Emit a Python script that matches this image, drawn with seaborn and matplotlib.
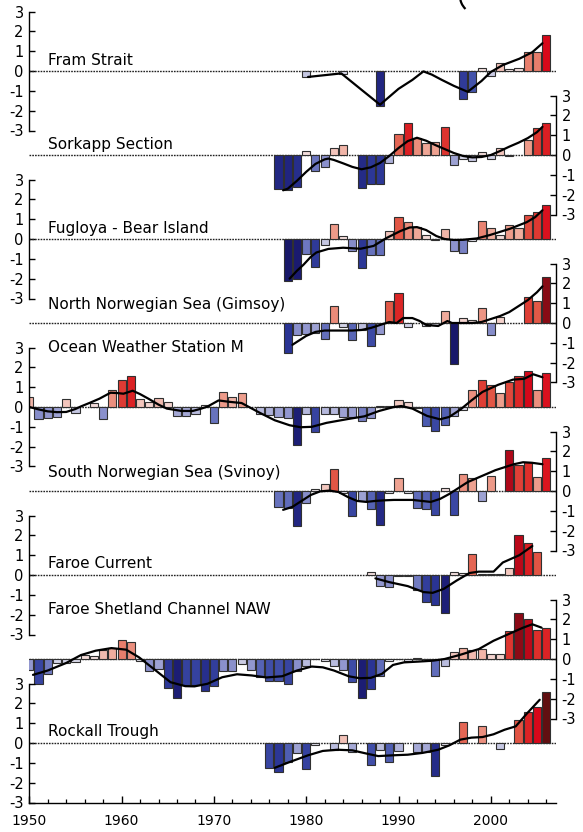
import numpy as np
import pandas as pd
import matplotlib
matplotlib.use("Agg")
import matplotlib.pyplot as plt
import seaborn as sns
from matplotlib.colors import LinearSegmentedColormap, Normalize
from matplotlib.ticker import FixedLocator
from matplotlib.patches import Arc
from matplotlib.transforms import IdentityTransform

sns.set_theme(style="white")
plt.rcParams["font.family"] = ["DejaVu Sans"]
plt.rcParams["axes.unicode_minus"] = False
plt.rcParams["text.color"] = "black"
plt.rcParams["xtick.color"] = "black"
plt.rcParams["ytick.color"] = "black"

nan = np.nan

# ---------------- annual anomalies (bars) ----------------
fram_years = [1980, 1984, 1988, 1997, 1998, 1999, 2000, 2001, 2002, 2003, 2004, 2005, 2006]
fram_vals = [-0.3, -0.15, -1.75, -1.4, -1.05, 0.15, -0.25, 0.4, 0.12, 0.15, 0.95, 0.95, 1.8]

sorkapp_years = list(range(1977, 2007))
sorkapp_vals = [-1.73, -1.78, -1.62, 0.18, -0.79, -0.6, 0.37, 0.5, nan, -1.68,
                -1.46, -1.46, -0.42, 1.04, 1.6, 0.87, 0.62, 0.67, 1.42, -0.49,
                -0.18, -0.28, 0.17, -0.22, 0.37, -0.04, nan, 0.75, 1.37, 1.6]

fugloya_years = list(range(1978, 2007))
fugloya_vals = [-2.1, -2.0, -0.77, -1.42, -0.3, 0.75, 0.17, -0.62, -1.45, -0.8,
                -0.83, 0.38, 1.12, 0.87, 0.6, 0.2, -0.07, 0.5, -0.58, -0.7,
                -0.08, 0.93, 0.55, 0.2, 0.73, 0.55, 1.2, 1.37, 1.72]

gimsoy_years = list(range(1978, 2007))
gimsoy_vals = [-1.5, -0.6, -0.55, -0.5, -0.83, 0.88, -0.2, -0.88, -0.33, -1.17,
               -0.55, 1.1, 1.53, -0.22, nan, -0.15, -0.12, 0.58, -2.08, 0.25,
               0.17, 0.78, -0.62, 0.28, nan, nan, 1.33, 1.1, 2.33]

owsm_years = list(range(1950, 2007))
owsm_vals = [0.5, -0.62, -0.55, -0.5, 0.38, -0.3, nan, 0.18, -0.6, 0.85,
             1.35, 1.57, 0.38, 0.25, 0.45, 0.25, -0.45, -0.45, -0.35, 0.1,
             -0.8, 0.75, 0.5, 0.7, nan, -0.35, -0.42, -0.5, -0.55, -1.92,
             -0.37, -1.27, -0.37, -0.37, -0.5, -0.52, -0.72, -0.57, 0.03, 0.03,
             0.34, 0.26, -0.03, -0.96, -1.2, -0.92, -0.47, -0.15, 0.84, 1.34,
             1.12, 0.7, 1.24, 1.54, 1.82, 0.84, 1.71]

svinoy_years = list(range(1977, 2007))
svinoy_vals = [-0.8, -0.85, -1.75, -0.62, 0.08, 0.35, 1.12, -0.1, -1.25, -0.5,
               -0.9, -1.7, -0.12, 0.65, -0.1, -0.85, -0.9, -1.22, 0.15, -1.2,
               0.85, 0.65, -0.5, 0.75, nan, 2.08, 1.3, 1.45, 0.72, 1.68]

faroe_years = list(range(1987, 2006))
faroe_vals = [0.15, -0.55, -0.6, -0.05, -0.05, -0.75, -1.35, -1.5, -1.9, 0.15,
              0.1, 1.05, 0.05, 0.05, 0.05, 0.35, 2.0, 1.6, 1.15]

fsc_years = list(range(1950, 2007))
fsc_vals = [-0.55, -1.25, -0.75, -0.2, -0.2, -0.15, 0.2, 0.15, 0.45, 0.55,
            0.95, 0.85, -0.1, -0.6, -0.5, -1.45, -1.95, -1.3, -1.3, -1.6,
            -1.35, -0.6, -0.6, -0.25, -0.55, -0.9, -1.1, -1.1, -1.25, -0.6,
            -0.35, 0.02, -0.1, -0.35, -0.55, -1.15, -1.95, -1.5, -0.85, -0.08,
            0.02, -0.1, 0.05, -0.1, -0.85, -0.35, 0.35, 0.55, 0.45, 0.5,
            0.25, 0.25, 1.4, 2.3, 2.0, 1.45, 1.55]

rockall_years = list(range(1976, 2007))
rockall_vals = [-1.25, -1.45, -0.95, -0.5, -1.3, -0.1, nan, -0.35, 0.4, -0.45,
                nan, -1.1, -0.35, -0.95, -0.4, nan, -0.45, -0.45, -1.65, -0.1,
                nan, 1.05, nan, 0.85, nan, -0.3, nan, 1.15, 1.55, 1.8, 2.55]

# ---------------- smoothed curves ----------------
fram_lx = [1980.2, 1983.8, 1986.0, 1988.0, 1990.0, 1991.5, 1992.7, 1993.6, 1994.7,
           1996.0, 1997.5, 1999.0, 2000.0, 2001.3, 2003.1, 2004.5, 2005.6]
fram_ly = [-0.3, -0.12, -0.95, -1.7, -0.9, -0.45, -0.02, -0.18, -0.45,
           -0.75, -1.05, -0.5, -0.05, 0.3, 0.62, 0.95, 1.4]

sorkapp_lx = [1977.5, 1978, 1979, 1980, 1981, 1982, 1982.4, 1983, 1984, 1985, 1986,
              1987, 1988, 1989, 1990, 1991, 1992, 1993, 1994, 1995, 1996, 1997,
              1998, 1999, 2000, 2001, 2002, 2003, 2004, 2005, 2005.6]
sorkapp_ly = [-1.78, -1.7, -1.3, -0.85, -0.45, -0.22, -0.18, -0.25, -0.42, -0.6, -0.72,
              -0.62, -0.4, -0.05, 0.35, 0.7, 0.87, 0.72, 0.5, 0.3, 0.1, -0.05,
              -0.12, -0.1, 0.0, 0.2, 0.42, 0.62, 0.85, 1.15, 1.42]

fugloya_lx = [1978.2, 1979, 1979.7, 1980.5, 1981.1, 1982.4, 1984, 1985.9, 1987.3,
              1988.7, 1990.2, 1991.2, 1992, 1993, 1994.1, 1995, 1996, 1997, 1998.5,
              1999.9, 2002.1, 2003.9, 2004.8, 2005.6]
fugloya_ly = [-2.0, -1.6, -1.3, -0.9, -0.68, -0.5, -0.44, -0.49, -0.35,
              0.05, 0.4, 0.58, 0.6, 0.45, 0.15, 0.0, -0.05, -0.04, 0.03,
              0.2, 0.52, 0.85, 1.1, 1.45]

gimsoy_lx = [1978.5, 1979, 1980, 1981, 1982, 1983, 1984, 1985, 1986, 1987, 1988,
             1989, 1989.8, 1990.5, 1991.5, 1992.3, 1993, 1994.3, 1995.3, 1995.8,
             1996.5, 1998, 1999, 2000, 2001, 2002, 2003, 2004, 2005, 2005.6]
gimsoy_ly = [-1.1, -0.95, -0.65, -0.45, -0.38, -0.38, -0.38, -0.38, -0.35, -0.25, -0.1,
             0.05, 0.0, 0.25, 0.25, 0.1, -0.1, -0.15, 0.1, 0.0,
             0.0, 0.0, 0.05, 0.2, 0.35, 0.55, 0.85, 1.15, 1.55, 1.85]

owsm_lx = [1950, 1951, 1952, 1953, 1954, 1955, 1955.6, 1956.6, 1957.6, 1958.8, 1959.6,
           1960.2, 1961.2, 1962, 1962.9, 1964, 1964.9, 1966.5, 1967.7, 1968.5, 1969.3,
           1970.5, 1971.7, 1973, 1974, 1975, 1976.6, 1978.2, 1979.4, 1980.6, 1982.2,
           1984.6, 1986.3, 1987.9, 1989.5, 1990.3, 1991.5, 1993.1, 1994.5, 1995.5,
           1996.7, 1997.9, 1999.1, 2000.8, 2002.4, 2003.6, 2004.6, 2005.6]
owsm_ly = [0.0, -0.12, -0.22, -0.26, -0.25, -0.1, 0.03, 0.22, 0.42, 0.72, 0.7,
           0.67, 0.82, 0.65, 0.42, 0.12, -0.08, -0.2, -0.2, -0.1, 0.02,
           0.33, 0.26, 0.2, -0.05, -0.3, -0.67, -0.92, -1.02, -1.0, -0.8,
           -0.6, -0.47, -0.2, 0.0, 0.05, -0.08, -0.45, -0.62, -0.5,
           -0.13, 0.33, 0.76, 1.12, 1.38, 1.42, 1.65, 1.5]

svinoy_lx = [1977.5, 1978.5, 1979.5, 1980.5, 1981.5, 1982.5, 1983.5, 1984.5, 1985.5,
             1986.5, 1987.5, 1988.5, 1989.5, 1990.5, 1991.5, 1992.5, 1993.5, 1994.5,
             1995.5, 1996.5, 1997.5, 1998.5, 1999.5, 2000.5, 2001.5, 2002.5, 2003.5,
             2004.5, 2005.6]
svinoy_ly = [-0.95, -0.8, -0.5, -0.2, -0.02, 0.02, -0.05, -0.3, -0.5,
             -0.55, -0.5, -0.47, -0.45, -0.45, -0.45, -0.5, -0.55, -0.4,
             -0.15, 0.15, 0.45, 0.65, 0.85, 1.05, 1.2, 1.35, 1.45,
             1.42, 1.35]

faroe_lx = [1987.5, 1989, 1991, 1992.7, 1993.7, 1994.9, 1996.3, 1997.7, 1998.7,
            2000.3, 2001.3, 2003.1, 2004.5]
faroe_ly = [-0.17, -0.36, -0.56, -0.86, -0.9, -0.7, -0.28, 0.1, 0.17,
            0.17, 0.63, 1.0, 1.46]

fsc_lx = [1950.4, 1952, 1954, 1955.6, 1957.2, 1958.9, 1960.5, 1961.9, 1963.7, 1965.3,
          1966.9, 1967.9, 1969.3, 1970.9, 1972.5, 1974.1, 1975.7, 1977.4, 1979,
          1980.6, 1981.8, 1983, 1984.6, 1985.8, 1987, 1988.2, 1989.4, 1990.6,
          1992.2, 1993.8, 1995, 1996.6, 1998.7, 2000.3, 2001.9, 2003.5, 2004.5, 2005.5]
fsc_ly = [-0.8, -0.58, -0.2, 0.2, 0.42, 0.55, 0.47, 0.08, -0.58, -1.17,
          -1.37, -1.38, -1.25, -0.92, -0.77, -0.83, -0.93, -0.87, -0.58,
          -0.38, -0.42, -0.58, -0.87, -0.97, -0.95, -0.75, -0.3, -0.17,
          -0.13, -0.08, 0.0, 0.2, 0.5, 0.92, 1.25, 1.58, 1.75, 1.58]

rockall_lx = [1976.6, 1978.2, 1980.2, 1981.8, 1983.4, 1985, 1986.6, 1987.8, 1989.4,
              1991, 1992.6, 1994.3, 1995.5, 1996.7, 1997.9, 1999.1, 2000.3, 2001.5,
              2002.7, 2003.9, 2005.3]
rockall_ly = [-1.25, -0.96, -0.62, -0.4, -0.34, -0.37, -0.54, -0.66, -0.62,
              -0.59, -0.5, -0.34, -0.12, 0.17, 0.27, 0.3, 0.44, 0.67,
              0.84, 1.48, 2.18]

# name, bar years, bar values, curve x, curve y, axis side, label height
stations = [
    ("Fram Strait", fram_years, fram_vals, fram_lx, fram_ly, "left", 0.55),
    ("Sorkapp Section", sorkapp_years, sorkapp_vals, sorkapp_lx, sorkapp_ly, "right", 0.55),
    ("Fugloya - Bear Island", fugloya_years, fugloya_vals, fugloya_lx, fugloya_ly, "left", 0.55),
    ("North Norwegian Sea (Gimsoy)", gimsoy_years, gimsoy_vals, gimsoy_lx, gimsoy_ly, "right", 0.92),
    ("Ocean Weather Station M", owsm_years, owsm_vals, owsm_lx, owsm_ly, "left", 3.0),
    ("South Norwegian Sea (Svinoy)", svinoy_years, svinoy_vals, svinoy_lx, svinoy_ly, "right", 0.92),
    ("Faroe Current", faroe_years, faroe_vals, faroe_lx, faroe_ly, "left", 0.6),
    ("Faroe Shetland Channel NAW", fsc_years, fsc_vals, fsc_lx, fsc_ly, "right", 2.5),
    ("Rockall Trough", rockall_years, rockall_vals, rockall_lx, rockall_ly, "left", 0.57),
]

# diverging blue-white-red scale for the anomaly bars
anchors = [
    (-2.6, "#101048"), (-2.0, "#1a1a70"), (-1.5, "#2a3494"), (-1.0, "#4656ae"),
    (-0.6, "#8a90cc"), (-0.3, "#c4c6e2"), (0.0, "#f2f0f4"), (0.3, "#f4cfc8"),
    (0.6, "#efa898"), (0.9, "#ea8a78"), (1.1, "#e25a48"), (1.5, "#dc2a28"),
    (1.8, "#d8081a"), (2.2, "#a00818"), (2.6, "#5a1010"),
]
vmin, vmax = -2.6, 2.6
cmap = LinearSegmentedColormap.from_list(
    "anom", [((v - vmin) / (vmax - vmin), c) for v, c in anchors])
norm = Normalize(vmin=vmin, vmax=vmax)

W, H = 583, 832
x_left, x_right = 29.3, 556.0
px_per_year = 9.23
xmax = 1950 + (x_right - x_left) / px_per_year
half = 59.5

fig = plt.figure(figsize=(W / 100, H / 100), dpi=100)

for i, (name, yrs, vals, lx, ly, side, label_y) in enumerate(stations):
    y0 = 71 + 84 * i
    ax = fig.add_axes([x_left / W, 1 - (y0 + half) / H,
                       (x_right - x_left) / W, 2 * half / H])
    ax.patch.set_alpha(0)

    df = pd.DataFrame({"year": yrs, "value": vals}).dropna()
    sns.barplot(data=df, x="year", y="value", native_scale=True, width=0.88,
                color="white", edgecolor="#303030", linewidth=0.8,
                errorbar=None, ax=ax, zorder=2)
    for p in ax.patches:
        p.set_facecolor(cmap(norm(p.get_height())))

    ax.axhline(0, color="#222222", lw=1.0, ls=(0, (1.2, 0.8)), zorder=1)
    sns.lineplot(x=lx, y=ly, ax=ax, color="black", lw=1.6, sort=False,
                 estimator=None, zorder=3)

    ax.set_xlim(1950, xmax)
    ax.set_ylim(-3, 3)
    ax.set_xlabel("")
    ax.set_ylabel("")
    ax.set_yticks([-3, -2, -1, 0, 1, 2, 3])
    ax.set_yticklabels(["-3", "-2", "-1", "0", "1", "2", "3"])

    for s in ax.spines.values():
        s.set_visible(False)
        s.set_color("black")
        s.set_linewidth(1.0)
    if side == "left":
        ax.spines["left"].set_visible(True)
        ax.yaxis.tick_left()
    else:
        ax.spines["right"].set_visible(True)
        ax.yaxis.tick_right()
    ax.tick_params(axis="y", direction="in", length=4, width=1.0,
                   labelsize=10.5, pad=4, colors="black")

    if i == len(stations) - 1:
        ax.spines["bottom"].set_visible(True)
        ax.xaxis.set_major_locator(FixedLocator([1950, 1960, 1970, 1980, 1990, 2000]))
        ax.xaxis.set_minor_locator(FixedLocator([y for y in range(1952, 2007, 2) if y % 10]))
        ax.set_xticklabels(["1950", "1960", "1970", "1980", "1990", "2000"])
        ax.tick_params(axis="x", which="major", direction="in", length=5, width=1.0,
                       labelsize=10, pad=8.5, bottom=True)
        ax.tick_params(axis="x", which="minor", direction="in", length=3, width=0.9,
                       bottom=True)
    else:
        ax.set_xticks([])

    ax.text(1952.0, label_y, name, ha="left", va="center", fontsize=11,
            color="black", zorder=4)

# small bracket stroke cut by the upper edge
bracket = Arc((478, H + 4), 36, 36, theta1=180, theta2=226, lw=1.6,
              color="black", transform=IdentityTransform())
fig.add_artist(bracket)

fig.savefig("out.png", dpi=100)
